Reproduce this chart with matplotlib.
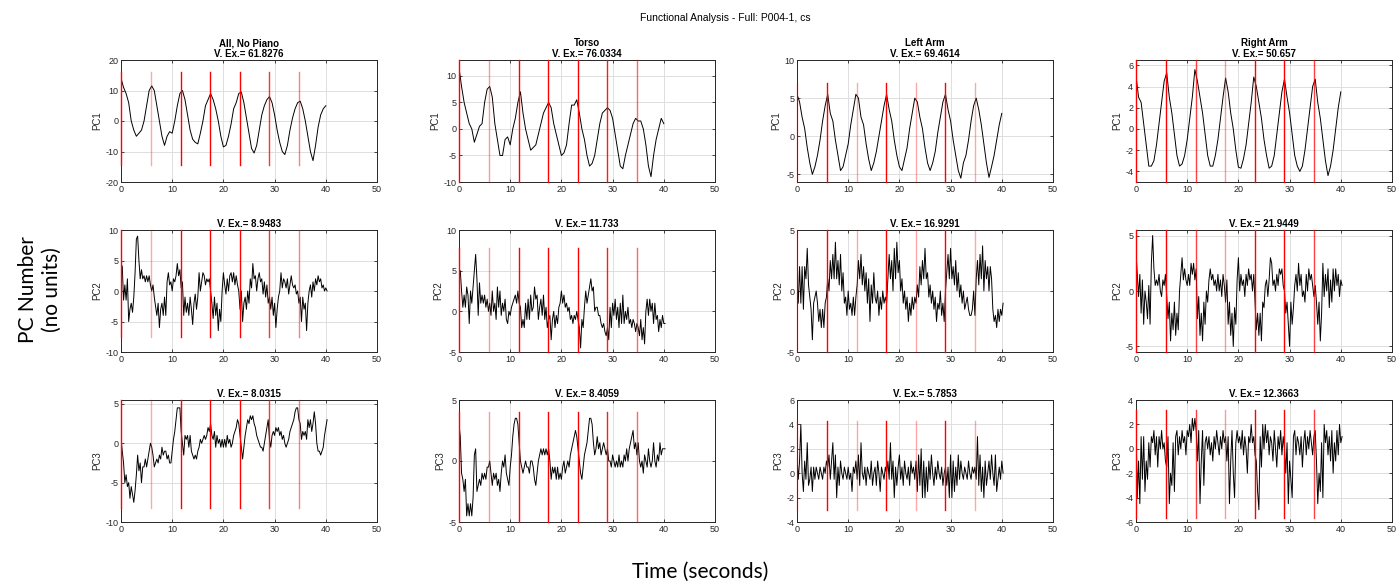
import matplotlib.pyplot as plt
import numpy as np

plt.rcParams['font.family'] = ['Liberation Sans', 'DejaVu Sans']
plt.rcParams['axes.unicode_minus'] = False

# ---- PC1 scores, one value every 0.5 s ----
all_pc1 = [14, 11, 9, 6, 0, -3, -5, -4, -3, 0,
           5, 10, 11.5, 10, 5, 0, -5, -8, -5, -3.5,
           -4, 0, 5, 9, 10, 7, 2, -3, -6, -7,
           -7.5, -4, 0, 5, 7, 9, 7, 4, 0, -5,
           -8.5, -8, -5, -1, 4, 6, 9, 9.5, 6, 1,
           -4, -9, -10.5, -8, -3, 2, 5, 7, 8, 6,
           2, -3, -7, -10, -11, -8, -3, 1, 4, 6,
           6.5, 4, 0, -5, -10, -13, -8, -2, 2, 4,
           5]
torso_pc1 = [11.5, 8, 5, 3, 1, 0, -2.5, -1, 0.5, 1,
             5, 7.5, 8, 6, 1, -2, -5, -5, -2, -1.5,
             -3, 0, 2, 5, 7, 3, 0, -2, -4, -3.5,
             -3, -1, 1, 3, 4, 5, 4, 1, -1, -3,
             -5, -4.5, -3, 1, 4.5, 4.5, 5.5, 3, 0, -2,
             -5, -7, -6.5, -5, -2, 1, 3, 3.5, 4, 3.5,
             2, -1, -4, -7, -7.5, -5, -3, -1, 1, 2,
             1.5, 1.5, 0, -3, -7, -9, -5, -2, 0, 2,
             1]
left_pc1 = [5.5, 4.5, 2.5, 1, -1.5, -3.5, -5, -4, -2.5, -0.5,
            2, 4, 5.5, 3, 2, -0.5, -2.5, -4.5, -4, -2.5,
            -1, 1.5, 3.5, 5.5, 5, 2.5, 1.5, -1, -3, -4.5,
            -3.5, -2, 0, 2, 4, 5.5, 3.5, 2, -0.5, -2.5,
            -4, -4.5, -3, -1.5, 1, 3, 5, 4.5, 2.5, 1,
            -1.5, -3.5, -4.5, -3.5, -2, 0.5, 2.5, 4.5, 5.5, 3.5,
            2, -0.5, -2.5, -4.5, -5.5, -3.5, -2.5, -0.5, 2, 4,
            5, 3.5, 1.5, -1, -3.5, -5.4, -4, -2.5, -0.5, 1.5,
            3]
right_pc1 = [5, 3, 2.5, 0.5, -1.5, -3.5, -3.5, -3, -1.5, 0.5,
             2.5, 4.5, 5.3, 3, 1.5, -0.5, -2.5, -3.5, -3.3, -2.5,
             -1, 1, 3, 5.6, 4.5, 3, 1.5, -0.5, -2.5, -3.5,
             -3.5, -2.5, -1, 1, 3, 4.8, 3.5, 1.5, 0, -2,
             -3.6, -3.7, -2.8, -1.5, 0.5, 2.5, 4.9, 4, 2.5, 1,
             -1, -2.5, -3.7, -3.5, -2.5, -0.5, 1.5, 3.5, 4.7, 3,
             1.5, -0.5, -2.5, -3.5, -4, -3.5, -2, 0, 2, 4,
             4.7, 2.5, 1, -1, -3, -4.4, -3.5, -2, 0, 2,
             3.5]

# ---- PC2 scores, one value every 0.25 s ----
all_pc2 = [4.5, 4, -1.5, 1, -1.5, 2, -5, -3, -2, -3.5, -1, 3, 8.5, 9, 5, 2, 3.5, 2, 2.5, 1.5,
           2.5, 1.5, 2.5, 1, 0, 1, -1, -2.5, -4, -2, -6, -3, -2, -4, -1, -4, 1.5, 3, 1, 1.5,
           0, 2, 1.5, 2.5, 4.5, 2.5, 3.5, 0.5, 1.5, -4, -1, -3.5, -2, -4, -1, -3, -5.5, -2, -0.5, -3,
           -1, 3, 0, 1.5, 3, 2.5, 1, 2, 1.5, 2, 0, -2, -4.5, -1, -4, -2, -6.5, -3, -5, 0,
           3, 1, -0.5, 2, 0, 2.5, 3, 1.5, 3, 1, 2.5, 1, 0, -3, 0, -5, -2, -1, -3, 0,
           -2, 2, 0.5, 4.5, 2, 2.5, 0, 2, 3, 1.5, 2, -0.5, 1.5, -1, 1, -2, -1, -3, -1, -4,
           -2, -6, -3, -1, 0, 3, 0.5, 2, 1.5, 0.5, 2, -0.5, 1, 2.5, 1, 0.5, 1, -0.5, 0, -2,
           -1, -5, -1, -3, -2, -6.5, -2, 0, 1, -1, 1.5, 0, 2, 1, 2.5, 1.5, 2, 0.5, 1, 0,
           0.5, 0]
torso_pc2 = [4, 5, 2.5, 0.5, 2, 0.5, 3, 2, -1.5, 2.5, 1, 3, 5, 7, 4, -0.5, 3.5, 1, 2, 1,
             2, 0.5, 1.5, 0, 1, -0.5, 2.5, 0, 1, -1, 3, 0.5, 2.5, -0.5, 1, 0, 1.5, -1, -1.5, 0,
             -0.5, 0.5, 1, 1.5, 2, 1, 2.5, 1, 0.5, -2, -1, -2, 1, -1, 1.5, -1, 2, 0, 0.5, 3,
             1.5, 2, -1, 0.5, 1.5, -0.5, 2, -1, 0.5, -2, -1, -0.5, -3.5, -1, 0, -2, -0.5, -1.5, 0.5, 1,
             2.5, 1, 2, 0.5, 1, 0, 0.5, -1, -0.5, -1.5, -0.5, -1, 0, -1, -2, -4.5, -1, -2, 0.5, 2.5,
             1, 2, 3, 4, 2.5, 3, 0, 0.5, 0.5, -0.5, -0.5, -1.5, -2, -1.5, -2.5, -3, -2, -3.5, 0.5, -2,
             1, -0.5, 1.5, -1, 0.5, -2, 1, -1.5, 2, -1.5, 0, -1, 0.5, -1.5, -1, -2, -1, -1.5, -2.5, -1.5,
             -2, -3, -1, -3.5, -2, -4, 0, 1.5, -0.5, 1.5, 0, 1, -1.5, 1, -1, -0.5, -2.5, -1, -2, -0.5,
             -1.5, -1.5]
left_pc2 = [1, -1, 2, -1, 2, -1.5, 2, 1, 3.5, 0.5, -0.5, -1.5, -4, -1, -0.5, 0, -1, -2.5, -1.5, -3,
            -1.5, -3, -1, -0.5, 1, 0, 2.5, 1, 3, 1, 4, 1, 2.5, 0.5, 3, 0, 1.5, -1, -0.5, -2,
            0, -1.5, -1, -2, -0.5, -2, -0.5, 0.5, 2.5, 1, 3, 0.5, 2, 0, 1.5, -1, 1, -2.5, 0.5, -1,
            1.5, -0.5, -1, 0, -2, -0.5, -1.5, 0, -1, -0.5, -1, 1, 3, 1, 2.5, 0, 3.5, 1, 4, 1.5,
            2.5, 0, 1, -1, 0, -1.5, -0.5, -2.5, -1, -2, -0.5, -1.5, -0.5, -1, 0.5, -0.5, 2, 0.5, 2.5, 1,
            3.5, 1, 1.5, -0.5, 0.5, -1, 0, -1.5, -0.5, -2.5, -1, -1.5, 0, -2, -1, -2.5, 0, 1.5, 3, 1,
            3.5, 1, 2, 0.5, 2.5, 0, 1.5, -0.5, 0.5, -1, 0, -1.5, -1, -0.5, -1.5, -2, -2, -1.5, 0, -2,
            1, 2.5, 0.5, 3, 1, 3.7, 0, 2.5, 1, 2, 0, 2, 1, -1.5, -2.5, -2, -3, -1.5, -2.5, -1.5,
            -2, -1]
right_pc2 = [3.5, 1.5, -0.5, 1.5, -2, 1, -3, 0, -1, -2.5, 0.5, -3, 2.5, 5, 2, 0.5, 1, 0.5, 1.5, 0,
             -0.5, 1, 0.5, 1.5, -0.5, -2.5, -1, -4.5, -2, -3.5, -1, -4, -2, -3.5, 0, 1.5, 3, 1, 2, 1,
             0.5, 1.5, 0.5, 2.5, 1.5, 2.5, 1, 2, -2.5, -0.5, -4, -2, -4.5, -1, -3, 0, -1, 1, 2, 1,
             1.5, 0.5, 1, 0, 1.5, 0, 1, -0.5, 1.5, 0.5, -1, 1, -3, -1, -4, -2, -5, -1.5, -3, 1,
             3, 0, 1.5, 0.5, 1, -0.5, 1.5, 0.5, 2, 1, 1.5, 0, 1.5, -1, -3.5, -2, -4, -2, -4.5, -1,
             -1.5, 0.5, 1, -0.5, 1, 3, 2.5, 0.5, 1, 0, 1.5, 0.5, 2, 1.5, 2, 0.5, 0, -2, -1, -3,
             -5, -1, -3, -1.5, 0.5, 1.5, 0, 2.5, 0.5, 1.5, -0.5, 0, -1, 1.5, 0, 2, 1, 1.5, 0.5, -0.5,
             0.5, -1, -3, -1, -4.5, -2, 2.5, -0.5, 1.5, 0, 2, -1.5, 1, -1, 2, 0, 2, 0.5, 1.5, -0.5,
             1, 0.5]

# ---- PC3 scores, one value every 0.25 s ----
all_pc3 = [0.5, -1, -2.5, -5, -4, -5.5, -5, -7, -5.5, -6.5, -7.5, -6, -4, -1.5, -3.5, -2.5, -5, -3, -3, -2,
           -3, -2, -1, 0, -0.5, -1.5, -3, -2.5, -2, -2.5, -1.5, -2, -0.5, -1.5, -1, -1, -2, -1.5, -2.5, -2.5,
           -1, 0.5, 1.5, 3, 4.5, 4.5, 4.5, 1.5, 0, -1.5, 1, 0.5, 1, -0.5, 1, -1, -1.5, -2, -1.5, -2,
           -1, -0.5, 0.5, 0, 0.5, 1, 0.5, 1, 2, 1.5, 2.5, 1, 0.5, 1.5, -0.5, 1, 0, 0.5, -0.5, 0.5,
           -0.5, 0.5, -0.5, 1, 0, 0.5, -0.5, 0, 1, 1.5, 2, 3, 2.5, 1, -0.5, -2, -0.5, 1, 2, 3,
           2.5, 3.5, 3, 3.5, 2.5, 2, 1, 0.5, 0, -0.5, -0.5, -1, 0, 1, 2, 3, 0.5, -0.5, 1, 1.5,
           1, 2, 1.5, 2, 1, 1.5, 0.5, 1, 0, -0.5, 0, 0.5, 1.5, 2, 2.5, 3, 4, 4.5, 4.5, 3,
           2.5, 0.5, 1.5, 1, 1.5, 0.5, 3, 2, 3, 1.5, 2.5, 4, 2.5, 0, -1, -1, -1.5, -1, -0.5, 1,
           2, 3]
torso_pc3 = [3, 2, -1, -1.5, -2.5, -1.5, -4.5, -3.5, -4.5, -3.5, -4.5, -3, 0.5, 1, -2.5, -2, -1.5, -2, -1, -1.5,
             -1, -1.5, -0.5, -0.5, 0, -1, -2, -1, -1.5, -1, -2, -1.5, -2.5, -1, 0, -0.5, 0.5, -1, -1.5, -2,
             -0.5, 0.5, 2, 3, 3.5, 3.5, 3, 1.5, 0, -0.5, -1, -0.5, 0, -0.5, -0.5, -1, 0, 0, -0.5, -1.5,
             -2, -1, 0, 0.5, 1, 0.5, 1, 0.5, 1, 0.5, 1, 0, -1.5, -0.5, -1, -0.5, -1.5, -0.5, -1.5, -1,
             -1.5, -0.5, 0, -1, -0.5, 0, -0.5, 0.5, 1, 1.5, 2, 2.5, 2, 1, 0, -1, -1.5, -0.5, 0.5, 1,
             1.5, 2.5, 3.5, 3.5, 3, 1.5, 0.5, 1, 2, 1, 1.5, 0.5, 1, 1.5, 1, 0.5, 1, 0, 0, -0.5,
             0.5, 0, -0.5, 0, -0.5, 0.5, -0.5, 0, -0.5, 0.5, 0, 1, 0, 1, 1.5, 2, 2.5, 1, 1.5, 0.5,
             1.5, 0, -0.5, 0, -1, 0.5, 0, -0.5, 1, 0, -0.5, 0, 1.5, 0, -0.5, 0.5, 0, 1.5, 0.5, 1,
             1, 1]
left_pc3 = [1.5, -0.5, 1, 4, 0, -1.5, 1, -0.5, 2.5, -1, -0.5, 0.5, -1.5, 0.5, -0.5, 0.5, 0, -0.5, 0.5, 0,
            -0.5, 0.5, 0, 1, 0.5, 1.5, -0.5, 1, 2.5, -0.5, 1.5, -2, 0.5, -1, 1, 0, -0.5, 0.5, 0, -0.5,
            0.5, -0.5, 0, -1.5, 0.5, 0, 1, -0.5, 1.5, -1, 2.5, 0, -0.5, 0.5, -1, 0.5, 0, -0.5, 1, -1,
            0, 0.5, -1, 1, 0, -1.5, 0.5, 0, -0.5, 0.5, 0, 1, -0.5, 2.5, -0.5, 1, -2, 0.5, -1, 0.5,
            1.5, -0.5, 0.5, -1, 1, 0, -0.5, 0.5, -1, 1, 0, 0.5, -0.5, 1, -1.5, 1.5, -1, 2, -2, 1,
            -2, 0.5, -1.5, 1, -0.5, 1.5, 0, -1, 0.5, -0.5, 1, 0, -0.5, 0.5, -1, 0, 0.5, -1, 0.5, -2,
            1.5, -2, 1, -1.5, 0.5, -1, 1.5, -0.5, 1, 0, -0.5, 0.5, 0, -0.5, 1, 0, -0.5, 0.5, 0, 0.5,
            -0.5, 3, -1, 1.5, -1.5, 0.5, -2, 1, -1, 0, 1, -0.5, 1.5, 0, -1, 1.5, -1.5, -0.5, 0.5, -0.5,
            1, 0]
right_pc3 = [2, -4, -1, -4.5, 1, -2.5, 1, -3.5, -1, -2.5, 0.5, -1.5, 1, 0.5, 1.5, -0.5, 1, -1.5, 1, 0,
             1.5, 0, 0.5, -1, -1.5, 1, -4.5, -2, -3, 0.5, -3.5, 1, 1.5, -0.5, 1, 0, 1.5, 0.5, 1, -0.5,
             1.5, 1, 2, 0.5, 2.5, 1.5, 2.5, 1.5, -1, 1.5, -4.5, -1, 1.5, -3, 0.5, 1, 0, 1, -0.5, 0.5,
             -1, 1, 0, 1.5, 0.5, -0.5, 1, 0, 1.5, 0.5, 1, -1, 1, -4.5, -1, 1.5, -2, -4, 0.5, 1.5,
             0.5, 1, 0, 1.5, -0.5, 1, 0, -2, 1, 0.5, 2, 0.5, 1, -0.5, -1, -3.5, -5, 1, -1.5, 2,
             0, 2, 0.5, 1.5, -0.5, 1, 0.5, -1, 1.5, 0, -1.5, 1, 0, 1.5, -0.5, 1, 0, -2, 0.5, -4.5,
             -1, -2.5, -4, 1, 1.5, -0.5, 1, 0.5, -0.5, 1, -1.5, 0.5, 1.5, -0.5, 1, 0, 1.5, 0.5, -0.5, 1,
             1.5, -1, -4.5, -2, -3.5, 0.5, -4, 2, 0.5, 1.5, -0.5, 1, -1, 1.5, -2, 0.5, -1, 1.5, -0.5, 2,
             0.5, 1]

scores = [[all_pc1, torso_pc1, left_pc1, right_pc1],
          [all_pc2, torso_pc2, left_pc2, right_pc2],
          [all_pc3, torso_pc3, left_pc3, right_pc3]]
sample_step = [0.5, 0.25, 0.25]

segments = ['All, No Piano', 'Torso', 'Left Arm', 'Right Arm']
var_explained = [['61.8276', '76.0334', '69.4614', '50.657'],
                 ['8.9483', '11.733', '16.9291', '21.9449'],
                 ['8.0315', '8.4059', '5.7853', '12.3663']]

# event markers (s)
events = [0, 5.85, 11.75, 17.4, 23.2, 28.9, 34.75]
event_alpha = [[1, .35, 1, 1, 1, .8, .5],
               [1, .4, 1, 1, 1, .9, .6],
               [.4, 1, .35, 1, .35, 1, .35],
               [1, 1, .75, .4, 1, 1, .75]]
event_span = [[(-14.5, 16), (-10, 13), (-6, 7), (-5, 6.5)],
              [(-7.5, 10), (-5, 7.8), (-5, 5), (-5.5, 5.5)],
              [(-8.2, 5.5), (-5, 4), (-3, 4.3), (-5.7, 3.2)]]

ylims = [[(-20, 20), (-10, 13), (-6, 10), (-5, 6.5)],
         [(-10, 10), (-5, 10), (-5, 5), (-5.5, 5.5)],
         [(-10, 5.5), (-5, 5), (-4, 6), (-6, 4)]]
yticks = [[np.arange(-20, 21, 10), np.arange(-10, 11, 5), np.arange(-5, 11, 5), np.arange(-4, 7, 2)],
          [np.arange(-10, 11, 5), np.arange(-5, 11, 5), np.arange(-5, 6, 5), np.arange(-5, 6, 5)],
          [np.arange(-10, 6, 5), np.arange(-5, 6, 5), np.arange(-4, 7, 2), np.arange(-6, 5, 2)]]

W, H = 1400, 586
fig = plt.figure(figsize=(14, 5.86), dpi=100)

col_left = [121, 459, 797, 1136]
row_top = [60, 230, 400]
ax_w, ax_h = 256, 122
dark = '#262626'

for r in range(3):
    for c in range(4):
        ax = fig.add_axes([col_left[c] / W, 1 - (row_top[r] + ax_h) / H, ax_w / W, ax_h / H])
        y = np.array(scores[r][c])
        t = np.arange(len(y)) * sample_step[r]
        ax.plot(t, y, color='black', lw=0.7, zorder=2)
        lo, hi = event_span[r][c]
        for ev, a in zip(events, event_alpha[c]):
            ax.plot([ev, ev], [lo, hi], color='red', lw=1.0, alpha=a, zorder=3,
                    clip_on=False)
        ax.set_xlim(0, 50)
        ax.set_ylim(*ylims[r][c])
        ax.set_xticks(np.arange(0, 51, 10))
        ax.set_yticks(yticks[r][c])
        ax.grid(True, color='#dedede', lw=0.7)
        ax.set_axisbelow(True)
        ax.tick_params(direction='in', length=2.5, width=0.6, labelsize=6.5,
                       colors=dark, top=True, right=True, pad=2)
        for s in ax.spines.values():
            s.set_color(dark)
            s.set_linewidth(0.7)
        ax.set_ylabel('PC%d' % (r + 1), fontsize=7, color=dark, labelpad=2)
        title = 'V. Ex.= ' + var_explained[r][c]
        if r == 0:
            title = segments[c] + '\n' + title
        ax.set_title(title, fontsize=7, fontweight='bold', pad=2, linespacing=1.15)

fig.text(725 / W, 1 - 18 / H, 'Functional Analysis - Full: P004-1, cs',
         ha='center', va='center', fontsize=7.5, color='black')
fig.text(40 / W, 1 - 290 / H, 'PC Number\n(no units)', rotation=90,
         ha='center', va='center', fontsize=15, family=['Lato', 'DejaVu Sans'])
fig.text(700 / W, 1 - 572 / H, 'Time (seconds)', ha='center', va='center',
         fontsize=15, family=['Lato', 'DejaVu Sans'])

fig.savefig('out.png', dpi=100)
